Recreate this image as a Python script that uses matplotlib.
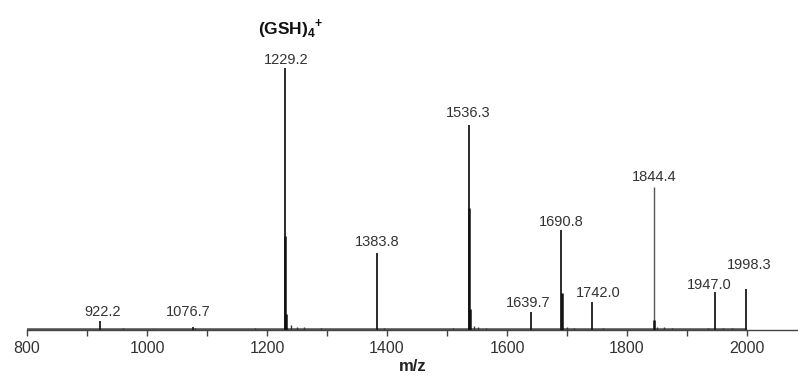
import numpy as np
import matplotlib
matplotlib.use("Agg")
import matplotlib.pyplot as plt

plt.rcParams["font.family"] = ["Liberation Sans", "DejaVu Sans"]
plt.rcParams["mathtext.fontset"] = "custom"
plt.rcParams["mathtext.bf"] = "Liberation Sans:bold"

# labelled peaks (m/z, relative intensity, base peak = 100)
peak_mz = [922.2, 1076.7, 1229.2, 1383.8, 1536.3, 1639.7, 1690.8, 1742.0, 1844.4, 1947.0, 1998.3]
peak_int = [3.4, 1.1, 100.0, 29.4, 78.2, 6.9, 38.2, 10.7, 54.6, 14.5, 15.6]
peak_labels = ["922.2", "1076.7", "1229.2", "1383.8", "1536.3", "1639.7",
               "1690.8", "1742.0", "1844.4", "1947.0", "1998.3"]

# isotope sticks next to the main peaks
iso_mz = [1230.2, 1231.2, 1537.3, 1538.3, 1691.8, 1845.4]
iso_int = [36.0, 6.0, 46.6, 8.0, 14.0, 4.0]

# small baseline bumps
minor_mz = [960, 1010, 1080, 1180, 1240, 1250, 1262, 1290, 1395, 1510, 1545, 1552, 1565,
            1700, 1712, 1760, 1850, 1862, 1875, 1935, 1960, 1975]
minor_int = [0.6, 0.5, 0.8, 0.6, 1.8, 1.2, 1.0, 0.7, 0.8, 0.8, 1.6, 1.2, 0.8,
             1.0, 0.8, 0.7, 1.2, 1.0, 0.8, 0.8, 0.9, 0.7]

# label offsets from top of stick (pixels)
label_dx = [2, -5, 2, 0, -1, -3, 0, 6, 1, -6, 3]
label_dy = [9, 15, 8, 11, 12, 9, 8, 9, 10, 7, 24]

fig = plt.figure(figsize=(7.98, 3.80), dpi=100)
ax = fig.add_axes([27 / 798, 50 / 380, 1 - 27 / 798, 320 / 380])

txt = "#333333"

# noisy baseline band
ax.hlines(0, 800, 2000, color="#555555", linewidth=2.6, zorder=1)
ax.vlines(minor_mz, 0, minor_int, color="#333333", linewidth=1.0, zorder=2)

# 1844.4 stick is drawn thinner/greyer in the original
widths = [1.0 if m == 1844.4 else 1.3 for m in peak_mz]
colors = ["#555555" if m == 1844.4 else "#1a1a1a" for m in peak_mz]
ax.vlines(peak_mz, 0, peak_int, colors=colors, linewidths=widths, zorder=3)
ax.vlines(iso_mz, 0, iso_int, color="#111111", linewidth=1.8, zorder=3)

for i in range(len(peak_mz)):
    ax.annotate(peak_labels[i], (peak_mz[i], peak_int[i]),
                xytext=(label_dx[i], label_dy[i]), textcoords="offset pixels",
                ha="center", va="center", fontsize=10.5, color=txt)

# ion label over the base peak
ax.annotate(r"(GSH)$_\mathbf{4}$$^\mathbf{+}$", (peak_mz[2], peak_int[2]),
            xytext=(6, 39), textcoords="offset pixels",
            ha="center", va="center", fontsize=12.5, fontweight="bold", color="#111111")

ax.set_xlim(800, 2085)
ax.set_ylim(0, 122)

for s in ["top", "right", "left"]:
    ax.spines[s].set_visible(False)
ax.spines["bottom"].set_color("#444444")
ax.spines["bottom"].set_linewidth(1.0)
ax.set_yticks([])

ax.set_xticks(np.arange(800, 2001, 200))
ax.set_xticks(np.arange(900, 2001, 100), minor=True)
ax.tick_params(axis="x", which="both", direction="out", length=4, width=1.0,
               color="#444444", labelsize=11.5, labelcolor=txt, pad=4)
ax.set_xlabel("m/z", fontsize=12, fontweight="bold", color="#222222", labelpad=2)

plt.savefig("out.png", dpi=100)
